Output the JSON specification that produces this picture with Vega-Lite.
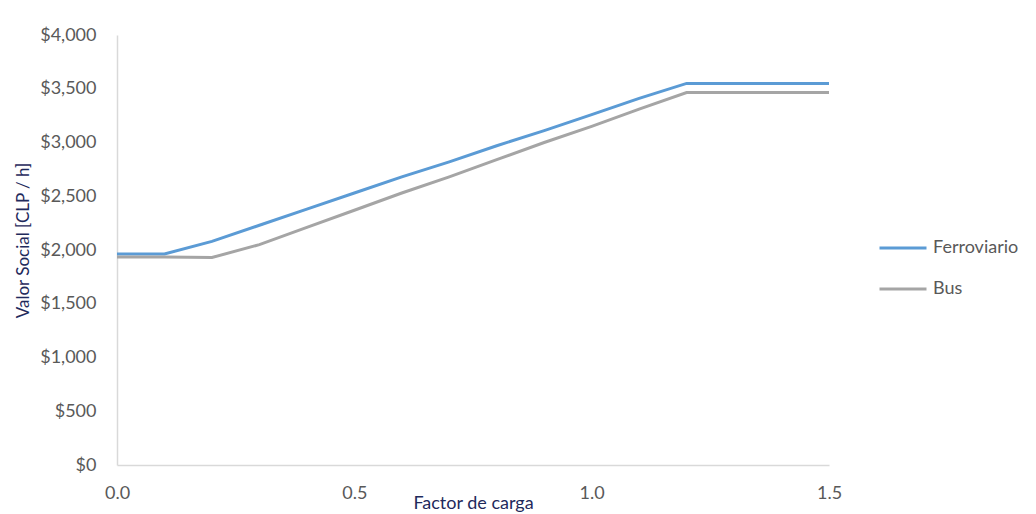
{
  "$schema": "https://vega.github.io/schema/vega-lite/v6.json",
  "width": 712,
  "height": 430,
  "autosize": {"type": "none"},
  "padding": {"left": 117, "top": 35, "right": 207, "bottom": 49},
  "background": "white",
  "config": {
    "view": {"stroke": null},
    "font": "Lato",
    "axis": {"grid": false, "ticks": false, "domainColor": "#d9d9d9", "domainWidth": 1.5, "labelColor": "#595959", "labelFontSize": 18, "labelFont": "Lato", "titleFont": "Lato", "titleFontWeight": "normal", "titleFontSize": 18, "titleColor": "#1f2a5c"}
  },
  "data": {
    "values": [
      {"x": 0.0, "s": "Ferroviario", "v": 1963},
      {"x": 0.1, "s": "Ferroviario", "v": 1963},
      {"x": 0.2, "s": "Ferroviario", "v": 2080},
      {"x": 0.3, "s": "Ferroviario", "v": 2230},
      {"x": 0.4, "s": "Ferroviario", "v": 2380},
      {"x": 0.5, "s": "Ferroviario", "v": 2530},
      {"x": 0.6, "s": "Ferroviario", "v": 2680},
      {"x": 0.7, "s": "Ferroviario", "v": 2820},
      {"x": 0.8, "s": "Ferroviario", "v": 2970},
      {"x": 0.9, "s": "Ferroviario", "v": 3110},
      {"x": 1.0, "s": "Ferroviario", "v": 3260},
      {"x": 1.1, "s": "Ferroviario", "v": 3410},
      {"x": 1.2, "s": "Ferroviario", "v": 3550},
      {"x": 1.3, "s": "Ferroviario", "v": 3550},
      {"x": 1.4, "s": "Ferroviario", "v": 3550},
      {"x": 1.5, "s": "Ferroviario", "v": 3550},
      {"x": 0.0, "s": "Bus", "v": 1935},
      {"x": 0.1, "s": "Bus", "v": 1935},
      {"x": 0.2, "s": "Bus", "v": 1930},
      {"x": 0.3, "s": "Bus", "v": 2050},
      {"x": 0.4, "s": "Bus", "v": 2210},
      {"x": 0.5, "s": "Bus", "v": 2370},
      {"x": 0.6, "s": "Bus", "v": 2530},
      {"x": 0.7, "s": "Bus", "v": 2680},
      {"x": 0.8, "s": "Bus", "v": 2840},
      {"x": 0.9, "s": "Bus", "v": 3000},
      {"x": 1.0, "s": "Bus", "v": 3150},
      {"x": 1.1, "s": "Bus", "v": 3310},
      {"x": 1.2, "s": "Bus", "v": 3465},
      {"x": 1.3, "s": "Bus", "v": 3465},
      {"x": 1.4, "s": "Bus", "v": 3465},
      {"x": 1.5, "s": "Bus", "v": 3465}
    ]
  },
  "mark": {"type": "line", "strokeWidth": 3, "strokeJoin": "miter"},
  "encoding": {
    "x": {
      "field": "x", "type": "quantitative",
      "scale": {"domain": [0, 1.5], "nice": false, "zero": false},
      "axis": {"values": [0, 0.5, 1.0, 1.5], "format": ".1f", "labelFlush": false, "labelPadding": 19, "title": "Factor de carga", "titleY": 29, "titleBaseline": "top", "titleAnchor": "middle"}
    },
    "y": {
      "field": "v", "type": "quantitative",
      "scale": {"domain": [0, 4000], "nice": false},
      "axis": {"values": [0, 500, 1000, 1500, 2000, 2500, 3000, 3500, 4000], "format": "$,.0f", "labelPadding": 21, "title": "Valor Social [CLP / h]", "titleX": -85, "titleY": 205, "titleFontSize": 17}
    },
    "color": {
      "field": "s", "type": "nominal",
      "scale": {"domain": ["Ferroviario", "Bus"], "range": ["#5b9bd5", "#a5a5a5"]},
      "legend": {"title": null, "orient": "none", "legendX": 761, "legendY": 188, "symbolType": "stroke", "symbolSize": 2209, "symbolStrokeWidth": 3, "labelFontSize": 18, "labelColor": "#595959", "rowPadding": 7, "labelOffset": 5}
    }
  }
}
